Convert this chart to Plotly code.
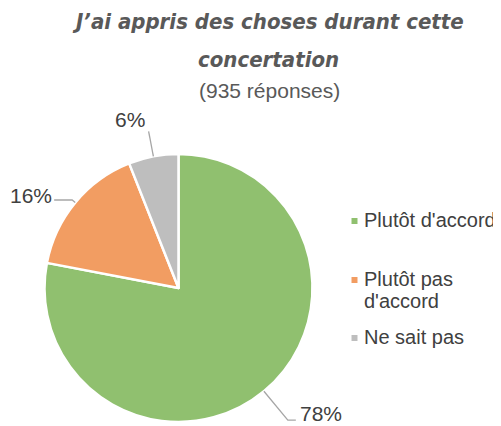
import math
import plotly.graph_objects as go

# ---- data ----
labels = ["Plutôt d'accord", "Plutôt pas<br>d'accord", "Ne sait pas"]
values = [78, 16, 6]
colors = ["#90C06F", "#F29D62", "#BEBEBE"]
title_lines = ["J’ai appris des choses durant cette", "concertation"]
subtitle = "(935 réponses)"

# ---- layout / style parameters ----
OFF = 8                                    # page body margin of the browser
W, H = 501 - OFF, 426 - OFF
CX, CY, R = 178.5, 288.0, 134.0           # pie centre / radius in window pixels
leader_k = [1.28, 1.03, 1.19]             # radial length of leader line
leader_h = [8, -18, 0]                    # horizontal tail of leader line
label_anchor = [("left", "middle", 2, -7), ("right", "middle", 0, -5), ("right", "bottom", -2, 2)]
legend_x = 354.5
legend_y = [221, 280, 338]
legend_line = 22
TXT = "#404040"
FONT = "Liberation Sans, Arial, sans-serif"


def px(x):
    return (x - OFF) / W


def py(y):
    return 1 - (y - OFF) / H


fig = go.Figure(go.Pie(
    labels=labels, values=values, sort=False, direction="clockwise", rotation=0,
    marker=dict(colors=colors, line=dict(color="white", width=2.5)),
    textinfo="none", hoverinfo="label+percent", showlegend=False,
    domain=dict(x=[px(CX - R), px(CX + R)], y=[py(CY + R), py(CY - R)]),
))

shapes, annotations = [], []
total = sum(values)
cum = 0
for i, v in enumerate(values):
    mid = (cum + v / 2) / total * 2 * math.pi
    cum += v
    dx, dy = math.sin(mid), -math.cos(mid)
    x0, y0 = CX + R * dx, CY + R * dy
    x1, y1 = CX + R * leader_k[i] * dx, CY + R * leader_k[i] * dy
    x2, y2 = x1 + leader_h[i], y1
    shapes.append(dict(type="path", xref="paper", yref="paper",
                       path=f"M{px(x0)},{py(y0)} L{px(x1)},{py(y1)} L{px(x2)},{py(y2)}",
                       line=dict(color="#A6A6A6", width=1.3)))
    xa, ya, ox, oy = label_anchor[i]
    annotations.append(dict(text=f"{round(v / total * 100)}%", x=px(x2 + ox), y=py(y2 + oy),
                            xref="paper", yref="paper", xanchor=xa, yanchor=ya, showarrow=False,
                            font=dict(family=FONT, size=21, color=TXT)))

# legend drawn as squares + texts
for i, lab in enumerate(labels):
    yy = legend_y[i]
    shapes.append(dict(type="rect", xref="paper", yref="paper",
                       x0=px(legend_x - 3), x1=px(legend_x + 3), y0=py(yy + 3), y1=py(yy - 3),
                       fillcolor=colors[i], line=dict(width=0)))
    for j, part in enumerate(lab.split("<br>")):
        annotations.append(dict(text=part, x=px(362), y=py(yy - 1 + j * legend_line),
                                xref="paper", yref="paper", xanchor="left", yanchor="middle",
                                align="left", showarrow=False,
                                font=dict(family=FONT, size=20, color=TXT)))

# titles
TFONT = dict(family="DejaVu Sans Condensed, DejaVu Sans", size=22, color="#595959")
annotations.append(dict(text=f"<b><i>{title_lines[0]}</i></b>", x=px(268), y=py(22),
                        xref="paper", yref="paper", xanchor="center", yanchor="middle",
                        showarrow=False, font=TFONT))
annotations.append(dict(text=f"<b><i>{title_lines[1]}</i></b>", x=px(268), y=py(59),
                        xref="paper", yref="paper", xanchor="center", yanchor="middle",
                        showarrow=False, font=TFONT))
annotations.append(dict(text=subtitle, x=px(269), y=py(90), xref="paper", yref="paper",
                        xanchor="center", yanchor="middle", showarrow=False,
                        font=dict(family=FONT, size=21, color="#595959")))

fig.update_layout(
    width=W, height=H, paper_bgcolor="white", plot_bgcolor="white",
    margin=dict(l=0, r=0, t=0, b=0),
    shapes=shapes, annotations=annotations,
)

fig.write_html("out.html")
